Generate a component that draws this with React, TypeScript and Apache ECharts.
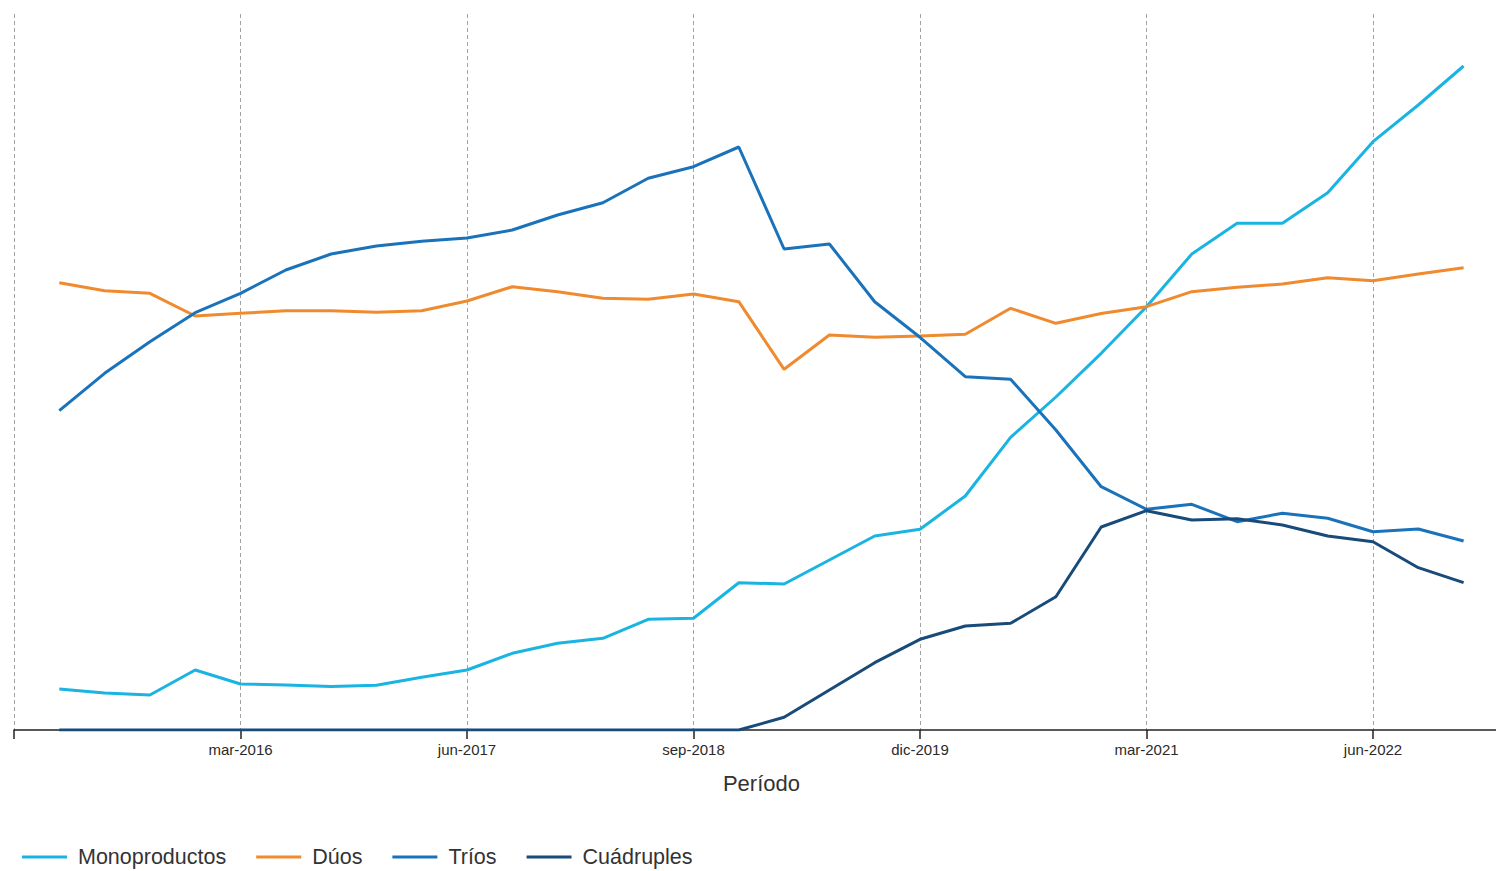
import React, { useEffect, useRef } from 'react';
import * as echarts from 'echarts';

const periods = [
  'mar-2015', 'jun-2015', 'sep-2015', 'dic-2015',
  'mar-2016', 'jun-2016', 'sep-2016', 'dic-2016',
  'mar-2017', 'jun-2017', 'sep-2017', 'dic-2017',
  'mar-2018', 'jun-2018', 'sep-2018', 'dic-2018',
  'mar-2019', 'jun-2019', 'sep-2019', 'dic-2019',
  'mar-2020', 'jun-2020', 'sep-2020', 'dic-2020',
  'mar-2021', 'jun-2021', 'sep-2021', 'dic-2021',
  'mar-2022', 'jun-2022', 'sep-2022', 'dic-2022',
];

const monoproductos = [41, 37, 35, 60, 46, 45, 43.5, 44.7, 52.7, 60, 76.7, 86.7, 91.7, 110.7, 111.7, 147.3, 146, 170, 194, 200.7, 234, 292.7, 333, 376.7, 423.3, 476, 506.7, 506.7, 537.3, 588.3, 625, 664];
const duos = [447.3, 439.3, 436.7, 414, 416.7, 419.3, 419.3, 417.7, 419.3, 429, 443.3, 438.3, 431.7, 430.7, 436, 428.3, 360.7, 395, 392.7, 394, 395.7, 421.7, 406.7, 416.5, 423.3, 438.3, 442.7, 446, 452.3, 449.3, 456, 462.3];
const trios = [319.3, 356.7, 388.3, 417.3, 436.7, 460, 476, 484, 488.7, 492, 500, 515, 527.3, 551.7, 563.3, 583, 481, 486, 428.3, 392.7, 353.3, 350.7, 300, 243.3, 220.7, 225.7, 208.3, 216.7, 211.7, 198.3, 201, 189];
const cuadruples = [0, 0, 0, 0, 0, 0, 0, 0, 0, 0, 0, 0, 0, 0, 0, 0, 12.7, 40, 67.3, 90.7, 104, 106.7, 133.3, 203, 219.3, 210, 211.3, 205, 194, 188.3, 162.3, 147.3];

const seriesNames = ['Monoproductos', 'Dúos', 'Tríos', 'Cuádruples'];
const seriesValues = [monoproductos, duos, trios, cuadruples];
const seriesColors = ['#1ab4e2', '#ef8a2e', '#1a73ba', '#184a7a'];

const FONT = "'Liberation Sans', Arial, sans-serif";

export default function App() {
  const ref = useRef<HTMLDivElement>(null);

  useEffect(() => {
    if (!ref.current) return;
    const chart = echarts.init(ref.current, undefined, { renderer: 'svg' });
    const unit = 45.3;
    const xMax = 33;
    chart.setOption({
      animation: false,
      backgroundColor: '#ffffff',
      textStyle: { fontFamily: FONT },
      grid: { left: 14, top: 14, width: unit * xMax, height: 716, containLabel: false },
      legend: {
        left: 17,
        top: 841,
        icon: 'rect',
        itemWidth: 45,
        itemHeight: 3,
        itemGap: 30,
        textStyle: { fontFamily: FONT, fontSize: 21.5, color: '#333', padding: [0, 0, 0, 6] },
        data: seriesNames,
      },
      xAxis: {
        type: 'value',
        min: 0,
        max: xMax,
        interval: 5,
        name: 'Período',
        nameLocation: 'middle',
        nameGap: 42,
        nameTextStyle: { fontFamily: FONT, fontSize: 22, color: '#333' },
        axisLine: { show: true, onZero: false, lineStyle: { color: '#222', width: 1.5 } },
        axisTick: { show: true, length: 9, lineStyle: { color: '#222', width: 1.5 } },
        axisLabel: {
          margin: 12,
          fontFamily: FONT,
          fontSize: 15,
          color: '#2a2a2a',
          formatter: (v: number) => (v % 5 === 0 && periods[v - 1] ? periods[v - 1] : ''),
        },
        splitLine: {
          show: true,
          showMaxLine: false,
          lineStyle: { color: '#a3a3a3', type: [4, 3], width: 1 },
        },
      },
      yAxis: {
        type: 'value',
        min: 0,
        max: 716,
        show: false,
        splitLine: { show: false },
      },
      series: seriesNames.map((name, k) => ({
        name,
        type: 'line',
        symbol: 'none',
        showSymbol: false,
        color: seriesColors[k],
        lineStyle: { width: 3, color: seriesColors[k] },
        data: seriesValues[k].map((v, i) => [i + 1, v]),
      })),
    });
    return () => chart.dispose();
  }, []);

  return (
    <div style={{ position: 'fixed', left: 0, top: 0, width: 1496, height: 871, overflow: 'hidden', background: '#fff' }}>
      <div ref={ref} style={{ width: 1520, height: 871 }} />
    </div>
  );
}
